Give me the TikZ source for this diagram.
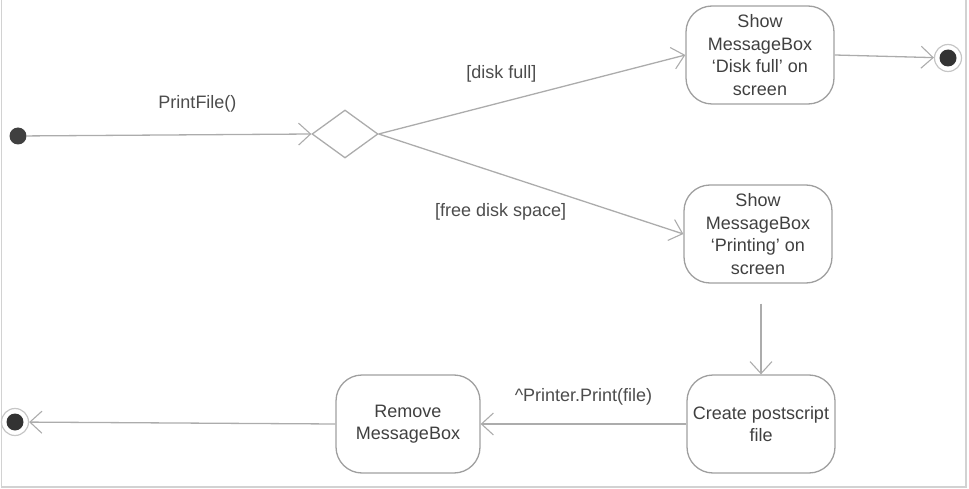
\documentclass[tikz,border=0pt]{standalone}
\usepackage{fontspec}
\setmainfont{Liberation Sans}
\usetikzlibrary{positioning,shapes.geometric,arrows.meta}

\tikzset{
  state/.style={draw=gray!75, line width=1.3pt, rounded corners=26pt,
    minimum width=148pt, minimum height=98pt, align=center, inner sep=2pt,
    text=black!75, font=\fontsize{18}{22.5}\selectfont},
  flow/.style={draw=gray!65, line width=1.3pt,
    -{Straight Barb[length=12pt,width=22pt,line width=1.1pt]}},
  lbl/.style={text=black!70, font=\fontsize{18}{20}\selectfont},
  endstate/.style={circle, draw=gray!45, line width=1.2pt, minimum size=27pt,
    inner sep=0, path picture={\fill[black!80] (path picture bounding box.center) circle (8.5pt);}},
}

\begin{document}
\begin{tikzpicture}[x=1pt,y=-1pt]
	\useasboundingbox (0,0) rectangle (969,489);
	% Rahmen
	\draw[gray!35, line width=1.5pt] (1.5,0) -- (1.5,487) -- (966,487) -- (966,0);

	% Start und Entscheidung
	\node[circle, fill=black!75, inner sep=0, minimum size=17pt] (start) at (18,136) {};
	\node[diamond, draw=gray!65, line width=1.3pt, minimum width=66pt, minimum height=48pt, inner sep=0] (choice) at (345,134) {};

	% Zustaende
	\node[state] (full) at (760,55) {Show\\MessageBox\\`Disk full' on\\screen};
	\node[state] (printing) at (758,234) {Show\\MessageBox\\`Printing' on\\screen};
	\node[state] (postscript) at (761,424) {Create postscript\\file};
	\node[state, minimum width=144pt] (remove) at (408,424) {Remove\\MessageBox};

	% Endzustaende
	\node[endstate] (endtop) at (948,58) {};
	\node[endstate] (endleft) at (15,422) {};

	% Uebergaenge
	\draw[flow] (start) -- (choice.west) node[lbl, pos=0.6, above=19pt] {PrintFile()};
	\draw[flow] (choice.east) -- (full.west) node[lbl, pos=0.4, above=16pt] {[disk full]};
	\draw[flow] (choice.east) -- (printing.west) node[lbl, pos=0.4, below=25pt] {[free disk space]};
	\draw[flow] (full.east) -- (endtop);
	\draw[flow, shorten <=20pt] (postscript.north |- printing.south) -- (postscript.north);
	\draw[flow] (postscript.west) -- (remove.east) node[lbl, midway, above=15pt] {\textasciicircum Printer.Print(file)};
	\draw[flow] (remove.west) -- (endleft);
\end{tikzpicture}
\end{document}
